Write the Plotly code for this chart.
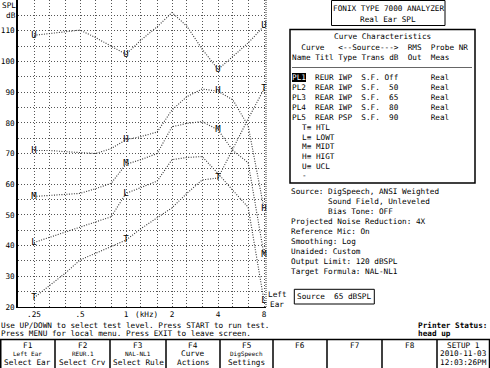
import math
import plotly.graph_objects as go

# ---------------- data ----------------
freqs_khz = [0.25, 0.315, 0.4, 0.5, 0.63, 0.8, 1.0, 1.25, 1.6, 2.0, 2.5, 3.15, 4.0, 5.0, 6.3, 8.0]
ucl  = [108.5, 109.0, 109.6, 110.2, 107.8, 105.0, 102.3, 106.9, 111.3, 115.9, 111.5, 104.0, 97.4, 101.6, 106.0, 111.5]
higt = [71.0, 71.0, 70.6, 70.3, 70.0, 71.6, 74.5, 75.5, 77.0, 84.2, 88.5, 91.0, 90.3, 87.5, 79.0, 52.0]
midt = [56.0, 56.3, 56.7, 57.0, 58.5, 60.3, 66.5, 68.0, 70.0, 78.7, 79.8, 80.4, 77.7, 71.0, 67.0, 37.0]
lowt = [41.0, 42.7, 44.4, 46.0, 47.7, 49.4, 57.0, 59.0, 61.0, 68.0, 68.7, 69.0, 63.5, 58.0, 52.5, 22.0]
htl  = [23.0, 27.0, 31.0, 35.3, 37.5, 39.7, 41.8, 45.5, 49.0, 52.3, 57.0, 61.4, 62.0, 71.7, 81.3, 91.0]

series_names = ["UCL", "HIGT", "MIDT", "LOWT", "HTL"]
series_letters = ["U", "H", "M", "L", "T"]
label_freqs = {"UCL": [0.25, 1.0, 4.0, 8.0], "HIGT": [0.25, 1.0, 4.0, 8.0],
               "MIDT": [0.25, 1.0, 4.0, 8.0], "LOWT": [0.25, 1.0, 8.0],
               "HTL": [0.25, 1.0, 4.0, 8.0]}

grid_freqs = freqs_khz
x_tick_text = {0.25: ".25", 0.5: ".5", 1.0: "1", 2.0: "2", 4.0: "4", 8.0: "8"}
y_grid = list(range(20, 120, 5))
y_tick_labels = list(range(20, 120, 10))

curve_rows = [
    ("PL1", "REUR", "IWP", "S.F.", "Off", "Real"),
    ("PL2", "REAR", "IWP", "S.F.", "50", "Real"),
    ("PL3", "REAR", "IWP", "S.F.", "65", "Real"),
    ("PL4", "REAR", "IWP", "S.F.", "80", "Real"),
    ("PL5", "REAR", "PSP", "S.F.", "90", "Real"),
]
legend_rows = ["T≡ HTL", "L≡ LOWT", "M≡ MIDT", "H≡ HIGT", "U≡ UCL", "-"]
info_lines = [
    ("Source: DigSpeech, ANSI Weighted", 0),
    ("Sound Field, Unleveled", 8),
    ("Bias Tone: OFF", 8),
    ("Projected Noise Reduction: 4X", 0),
    ("Reference Mic: On", 0),
    ("Smoothing: Log", 0),
    ("Unaided: Custom", 0),
    ("Output Limit: 120 dBSPL", 0),
    ("Target Formula: NAL-NL1", 0),
]
fkeys = [
    ("F1", "Left Ear", "Select Ear"),
    ("F2", "REUR.1", "Select Crv"),
    ("F3", "NAL-NL1", "Select Rule"),
    ("F4", "Curve", "Actions"),
    ("F5", "DigSpeech", "Settings"),
    ("F6", "", ""),
    ("F7", "", ""),
    ("F8", "", ""),
    ("SETUP 1", "2010-11-03", "12:03:26PM"),
]
small_second_row = ["F1", "F2", "F3", "F5"]

# ---------------- layout constants ----------------
W, H = 490, 368
PL, PR, PT, PB = 18, 266, 0, 307  # plot area in pixels
MONO = "DejaVu Sans Mono, Liberation Mono, monospace"
FS = 7.7
CW = FS * 0.602  # char width


def px(x):
    return (x - PL) / (PR - PL)


def py(y):
    return (PB - y) / (PB - PT)


def nb(s):
    return s.replace(" ", "\u00a0")


fig = go.Figure()

data_map = {"UCL": ucl, "HIGT": higt, "MIDT": midt, "LOWT": lowt, "HTL": htl}
for name in series_names:
    vals = data_map[name]
    fig.add_trace(go.Scatter(x=freqs_khz, y=vals, mode="lines",
                             line=dict(color="#333333", width=1.1, dash="1px,1.5px"),
                             hoverinfo="skip", showlegend=False))
for name, letter in zip(series_names, series_letters):
    vals = data_map[name]
    lx = list(label_freqs[name])
    ly = [vals[freqs_khz.index(f)] for f in lx]
    fig.add_trace(go.Scatter(x=lx, y=ly, mode="text", text=[letter] * len(lx),
                             textposition="middle center",
                             textfont=dict(family=MONO, size=9, color="black"),
                             cliponaxis=False, hoverinfo="skip", showlegend=False))

x_lo = 2 ** ((PL - 126) / 46)
x_hi = 2 ** ((PR - 126) / 46)

fig.update_layout(
    width=W, height=H,
    margin=dict(l=PL, r=W - PR, t=PT, b=H - PB),
    paper_bgcolor="white", plot_bgcolor="white",
    showlegend=False,
    xaxis=dict(type="log", range=[math.log10(x_lo), math.log10(x_hi)],
               tickvals=grid_freqs,
               ticktext=[x_tick_text.get(f, "") for f in grid_freqs],
               showgrid=True, gridcolor="#555555", griddash="1px,2px", gridwidth=1,
               ticks="", showline=True, linecolor="black", linewidth=1.2,
               tickfont=dict(family=MONO, size=FS, color="black"), zeroline=False),
    yaxis=dict(range=[20, 120], tickvals=y_grid,
               ticktext=[str(v) if v in y_tick_labels else "" for v in y_grid],
               showgrid=True, gridcolor="#555555", griddash="1px,2px", gridwidth=1,
               ticks="", showline=True, linecolor="black", linewidth=1.5,
               tickfont=dict(family=MONO, size=FS, color="black"), zeroline=False),
)

shapes = []
annots = []


def ann(text, x, y, size=FS, xanchor="left", color="black", bg=None, bold=False):
    t = nb(text)
    if bold:
        t = "<b>" + t + "</b>"
    annots.append(dict(text=t, xref="paper", yref="paper", x=px(x), y=py(y),
                       xanchor=xanchor, yanchor="middle", showarrow=False,
                       font=dict(family=MONO, size=size, color=color),
                       bgcolor=bg, borderpad=0, borderwidth=0))


def rect(x0, y0, x1, y1, width=1, color="black"):
    shapes.append(dict(type="rect", xref="paper", yref="paper",
                       x0=px(x0), x1=px(x1), y0=py(y0), y1=py(y1),
                       line=dict(color=color, width=width),
                       fillcolor="rgba(0,0,0,0)", layer="above"))


def line(x0, y0, x1, y1, width=1, color="black", dash=None):
    shapes.append(dict(type="line", xref="paper", yref="paper",
                       x0=px(x0), x1=px(x1), y0=py(y0), y1=py(y1),
                       line=dict(color=color, width=width, dash=dash), layer="above"))


# right border of plot (dotted)
line(PR, PT, PR, PB, width=1, color="#333333", dash="1px,1px")

# axis titles
ann("SPL", 16, 5, xanchor="right")
ann("dB", 16, 15, xanchor="right")
ann("(kHz)", 146, 314, xanchor="center")
ann("Left", 267.5, 294)
ann("Ear", 269.5, 304)

# title box
rect(331.5, 0.5, 445, 25.5, width=1)
ann("FONIX TYPE 7000 ANALYZER", 388, 8, xanchor="center")
ann("Real Ear SPL", 388, 19, xanchor="center")

# curve characteristics box
BX = 292.3
rect(290, 29.5, 475, 183, width=1.5)
ann("Curve Characteristics", BX + 9 * CW, 36.7)
ann("  Curve   <--Source--->  RMS  Probe NR", BX, 47.5)
ann("Name Titl Type Trans dB  Out  Meas", BX, 57.3)
line(292, 67.5, 472, 67.5, width=1, color="#666666")
row_y0 = 77.3
for i, (nm, titl, typ, trans, db, meas) in enumerate(curve_rows):
    y = row_y0 + 10 * i
    rest = titl.ljust(5) + typ.ljust(5) + trans.ljust(5) + db.rjust(3) + " " * 7 + meas
    ann(rest, BX + 5 * CW, y)
    if i == 0:
        ann(nm, BX, y, color="white", bg="black")
    else:
        ann(nm, BX, y)
for j, txt in enumerate(legend_rows):
    ann(txt, BX + 2 * CW, row_y0 + 10 * (len(curve_rows) + j) - 0.3 * j)

# info lines
for k, (txt, indent) in enumerate(info_lines):
    ann(txt, 290.7 + indent * CW, 191.7 + 10 * k)

# source box
rect(294.3, 289.3, 374.3, 304, width=1)
ann("Source  65 dBSPL", 297.3, 296.7)

# bottom messages
ann("Use UP/DOWN to select test level. Press START to run test.", 0.5, 325)
ann("Press MENU for local menu. Press EXIT to leave screen.", 0.5, 333.5)
ann("Printer Status:", 417.5, 325, bold=True)
ann("head up", 417.5, 333.5, bold=True)

# function keys
dividers = [0, 55, 110, 166, 220, 273, 327, 382, 437, 489.5]
line(0, 339.5, 490, 339.5, width=1.5)
for d in dividers:
    xd = 0.75 if d == 0 else d
    line(xd, 339.5, xd, 368, width=1.5)
for i, (a, b, c) in enumerate(fkeys):
    cx = (dividers[i] + dividers[i + 1]) / 2
    ann(a, cx, 345.7, xanchor="center")
    if b:
        ann(b, cx, 353.5, xanchor="center", size=(6 if a in small_second_row else FS))
    if c:
        ann(c, cx, 362.3, xanchor="center")

fig.update_layout(shapes=shapes, annotations=annots)
fig.write_html("out.html",
               config={"displayModeBar": False},
               post_script="document.body.style.margin='0px';document.body.style.overflow='hidden';")
